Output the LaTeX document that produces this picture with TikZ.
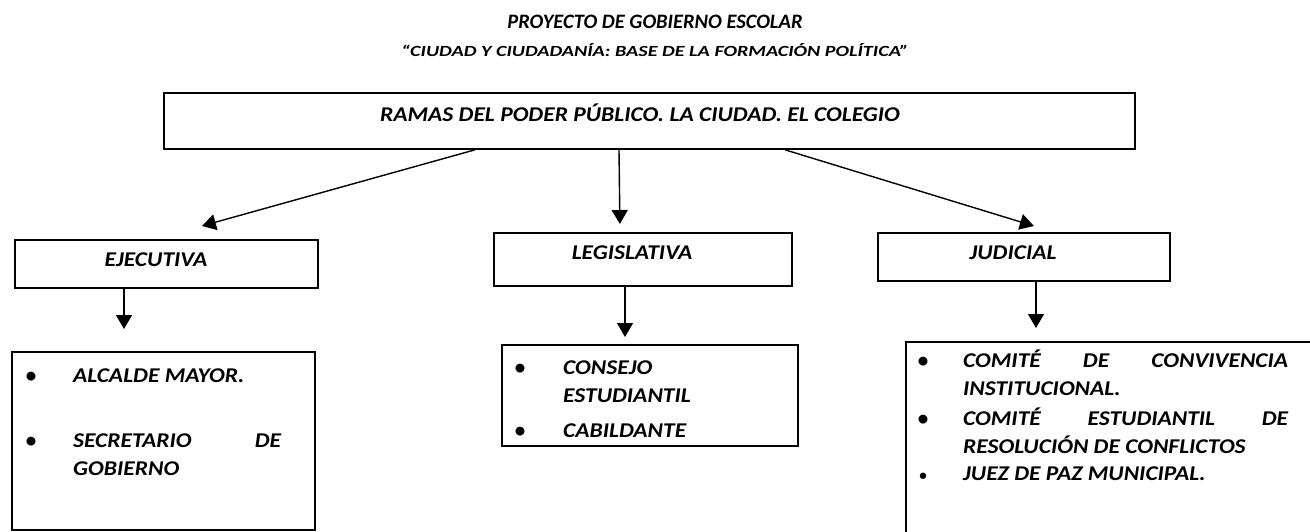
\documentclass[tikz,border=0pt]{standalone}
\usepackage{fontspec}
\setmainfont{Carlito}
\newfontfamily\ancha{Carlito}[FakeStretch=1.12, Ligatures=TeX]
\newfontfamily\lemafont{Carlito}[FakeStretch=1.3, Ligatures=TeX]
\usepackage{tikz}
\usetikzlibrary{arrows.meta,positioning}

\begin{document}
\begin{tikzpicture}
	[
		x=1pt, y=-1pt,
		caja/.style  = {rectangle, draw, line width=1.8pt, inner sep=0pt, anchor=north west},
		rotulo/.style = {rectangle, align=center, draw=none, fill=none, inner sep=0pt,
			font=\ancha\fontsize{21}{28}\selectfont\bfseries\itshape},
		item/.style  = {rectangle, align=justify, draw=none, fill=none, inner sep=0pt, anchor=base west,
			font=\ancha\fontsize{21}{28}\selectfont\bfseries\itshape},
		vineta/.style = {rectangle, draw=none, fill=none, inner sep=0pt, anchor=base,
			font=\fontsize{21}{28}\selectfont\bfseries},
		flecha/.style = {line width=1.4pt, -{Triangle[length=14pt, width=16pt]}},
	]
	\path[use as bounding box, clip] (0,0) rectangle (1310,531);

	% titles
	\node[rotulo, font=\fontsize{20.5}{24}\selectfont\bfseries\itshape] (titulo) at (655,22) {PROYECTO DE GOBIERNO ESCOLAR};
	\node[rotulo, font=\lemafont\fontsize{15.5}{18}\selectfont\bfseries\itshape] (lema) at (655,50) {“CIUDAD Y CIUDADANÍA: BASE DE LA FORMACIÓN POLÍTICA”};

	% boxes
	\node[caja, minimum width=971, minimum height=56] (ramas) at (163,92) {};
	\node[caja, minimum width=303, minimum height=48] (ejec)  at (14,239)  {};
	\node[caja, minimum width=298, minimum height=53] (legis) at (493,232) {};
	\node[caja, minimum width=292, minimum height=48] (judic) at (877,232) {};
	\node[caja, minimum width=303, minimum height=178] (lEjec)  at (11,351)  {};
	\node[caja, minimum width=296, minimum height=101] (lLegis) at (501,344) {};
	\node[caja, minimum width=420, minimum height=210] (lJudic) at (905,341) {};

	% box texts
	\node[rotulo] (tRamas) at (640,113) {RAMAS DEL PODER PÚBLICO. LA CIUDAD. EL COLEGIO};
	\node[rotulo] (tEjec)  at (156,260) {EJECUTIVA};
	\node[rotulo] (tLegis) at (632,253) {LEGISLATIVA};
	\node[rotulo] (tJudic) at (1013,253) {JUDICIAL};

	% items
	\node[vineta] (v1) at (31,382) {\textbullet};
	\node[item, text width=208] (i1) at (73,382) {ALCALDE MAYOR.};
	\node[vineta] (v2) at (31,447) {\textbullet};
	\node[item, text width=208] (i2) at (73,447) {SECRETARIO DE\linebreak GOBIERNO};

	\node[vineta] (v3) at (520,374) {\textbullet};
	\node[item, text width=215] (i3) at (563,374) {CONSEJO\newline ESTUDIANTIL};
	\node[vineta] (v4) at (520,437) {\textbullet};
	\node[item, text width=215] (i4) at (563,437) {CABILDANTE};

	\node[vineta] (v5) at (923,367) {\textbullet};
	\node[item, text width=325] (i5) at (963,367) {COMITÉ DE CONVIVENCIA\linebreak INSTITUCIONAL.};
	\node[vineta] (v6) at (923,425) {\textbullet};
	\node[item, text width=325] (i6) at (963,425) {COMITÉ ESTUDIANTIL DE\linebreak RESOLUCIÓN DE CONFLICTOS};
	\node[vineta, font=\fontsize{15}{28}\selectfont\bfseries] (v7) at (923,480) {\textbullet};
	\node[item, text width=325] (i7) at (963,480) {JUEZ DE PAZ MUNICIPAL.};

	% arrows
	\draw[flecha] (ramas.south -| 475,0) -- ([xshift=35.5pt, yshift=13pt]ejec.north);
	\draw[flecha] (ramas.south -| 619,0) -- ([xshift=-23pt, yshift=8pt]legis.north);
	\draw[flecha] (ramas.south -| 785,0) -- ([xshift=10pt, yshift=6pt]judic.north);
	\draw[flecha] (ejec.south -| 124,0)   -- ([yshift=22pt]lEjec.north -| 124,0);
	\draw[flecha] (legis.south -| 625,0)  -- ([yshift=7pt]lLegis.north -| 625,0);
	\draw[flecha] (judic.south -| 1036,0) -- ([yshift=13pt]lJudic.north -| 1036,0);

\end{tikzpicture}
\end{document}
